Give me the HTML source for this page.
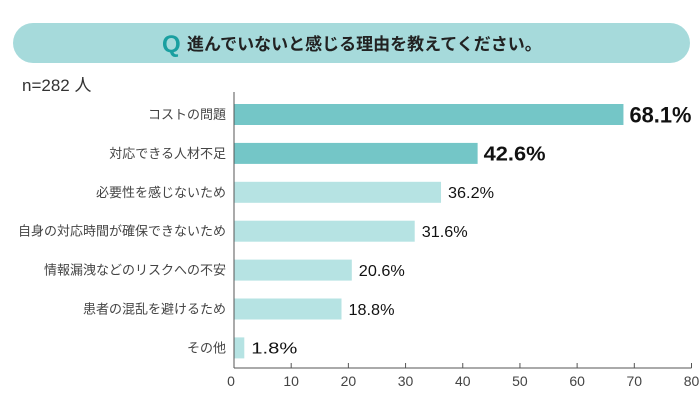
<!DOCTYPE html>
<html><head><meta charset="utf-8"><style>
body{margin:0;background:#fff;width:700px;height:401px;overflow:hidden;font-family:"Liberation Sans","Noto Sans CJK JP",sans-serif;}
</style></head><body>
<svg width="700" height="401" xmlns="http://www.w3.org/2000/svg">
<rect x="13" y="23" width="677" height="40" rx="20" fill="#a6dadb"/>
<text x="162" y="52" font-size="24" font-weight="bold" fill="#1a9fa0" font-family="Liberation Sans, sans-serif">Q</text>
<text x="187" y="50" font-size="17" font-weight="bold" fill="#222" font-family="Liberation Sans, Noto Sans CJK JP, sans-serif">進んでいないと感じる理由を教えてください。</text>
<text x="22" y="91" font-size="17" fill="#333" font-family="Liberation Sans, Noto Sans CJK JP, sans-serif">n=282 人</text>
<g id="bars"></g>
<g id="axis"></g>
</svg>
<script>
const categories=["コストの問題","対応できる人材不足","必要性を感じないため","自身の対応時間が確保できないため","情報漏洩などのリスクへの不安","患者の混乱を避けるため","その他"];
const values=[68.1,42.6,36.2,31.6,20.6,18.8,1.8];
const valueLabels=["68.1%","42.6%","36.2%","31.6%","20.6%","18.8%","1.8%"];
const ticks=[0,10,20,30,40,50,60,70,80];
const NS="http://www.w3.org/2000/svg";
const x0=234,x1=691.5,xmax=80;
const xs=v=>x0+(x1-x0)*v/xmax;
const top0=104,step=38.9,bh=21;
const ys=i=>top0+i*step;
const bars=document.getElementById('bars'),axis=document.getElementById('axis');
function mk(t,a,p){const e=document.createElementNS(NS,t);for(const k in a)e.setAttribute(k,a[k]);p.appendChild(e);return e;}
categories.forEach((c,i)=>{
  const y=ys(i);
  const r=mk('rect',{x:x0,y:y,width:xs(values[i])-x0,height:bh,fill:i<2?'#74c6c7':'#b6e3e3'},bars);
  
  
  const l=mk('text',{x:226,y:y+bh/2+4.5,'font-size':13,'text-anchor':'end',fill:'#444'},bars);
  l.textContent=c;
  
  
  const big=i===0?22:(i===1?20:16);
  const v=mk('text',{x:xs(values[i])+(i<2?6:7),y:y+bh/2+big*0.36,'font-size':big,'font-weight':i<2?'bold':'normal',fill:'#111',textLength:(i<2?62:46),lengthAdjust:'spacingAndGlyphs'},bars);
  v.textContent=valueLabels[i];
  
  
});
const ab=368;
let e=mk('line',{x1:x0,y1:92,x2:x0,y2:ab,stroke:'#555','stroke-width':1},axis);


e=mk('line',{x1:x0,y1:ab,x2:x1,y2:ab,stroke:'#555','stroke-width':1},axis);


ticks.forEach(t=>{
  const tk=mk('line',{x1:xs(t),y1:ab-5,x2:xs(t),y2:ab,stroke:'#555'},axis);
  
  
  const tl=mk('text',{x:xs(t)-(t===0?3:0),y:ab+18,'font-size':14,'text-anchor':'middle',fill:'#444'},axis);
  tl.textContent=t;
  
  
});
</script>
</body></html>
